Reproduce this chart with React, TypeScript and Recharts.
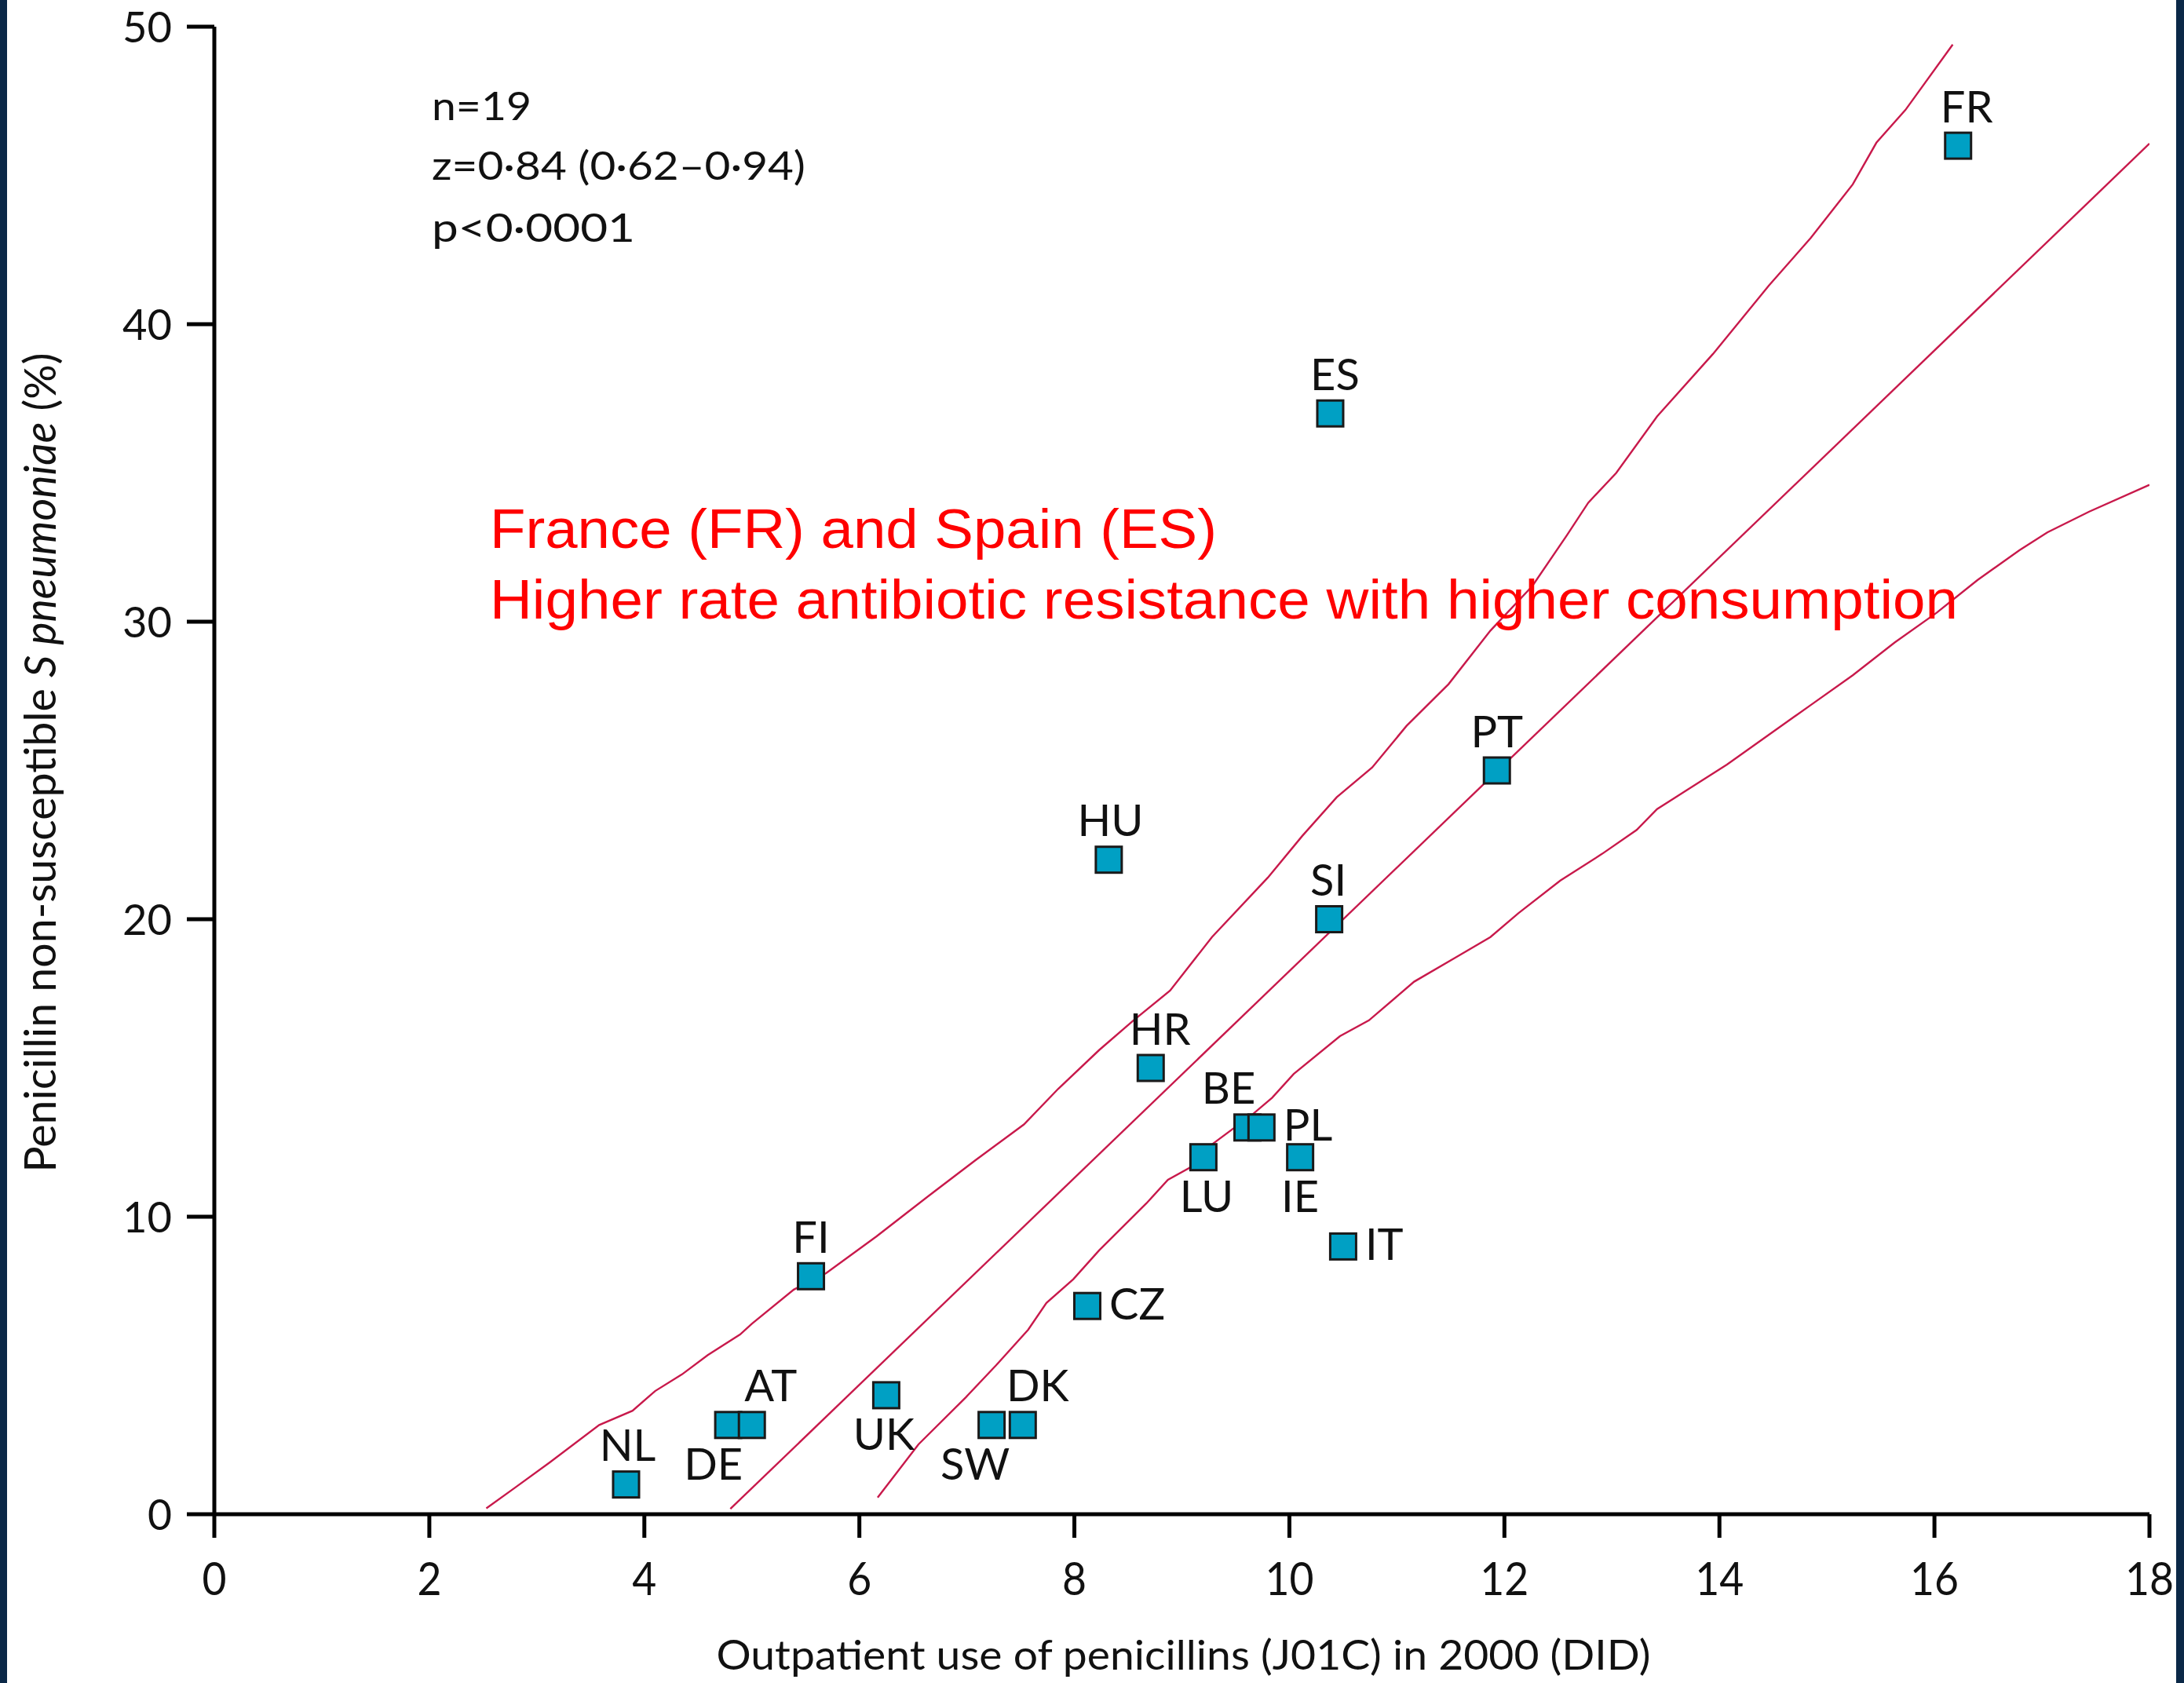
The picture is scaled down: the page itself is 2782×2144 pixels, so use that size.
import React from 'react';
import { ScatterChart, Scatter, XAxis, YAxis, Label } from 'recharts';

// ---- data ----
const countries = ['FR', 'ES', 'PT', 'SI', 'HU', 'HR', 'BE', 'PL', 'LU', 'IE', 'IT', 'CZ', 'FI', 'UK', 'SW', 'DK', 'DE', 'AT', 'NL'];
const penicillinUse = [16.22, 10.38, 11.93, 10.37, 8.32, 8.71, 9.61, 9.74, 9.2, 10.1, 10.5, 8.12, 5.55, 6.25, 7.23, 7.52, 4.78, 5.0, 3.83];
const resistancePct = [46, 37, 25, 20, 22, 15, 13, 13, 12, 12, 9, 7, 8, 4, 3, 3, 3, 3, 1];

const xTicks = [0, 2, 4, 6, 8, 10, 12, 14, 16, 18];
const yTicks = [0, 10, 20, 30, 40, 50];

const regressionX = [4.8, 18];
const regressionY = [0.18, 46.07];

const upperX = [2.53, 2.8, 3.12, 3.58, 3.89, 4.1, 4.35, 4.59, 4.89, 5.0, 5.39, 5.69, 6.16, 6.43, 6.68, 7.08, 7.53, 7.85, 8.23, 8.55, 8.89, 9.28, 9.8, 10.12, 10.44, 10.77, 11.09, 11.48, 11.87, 12.26, 12.58, 12.78, 13.04, 13.42, 13.94, 14.46, 14.85, 15.24, 15.46, 15.73, 16.17];
const upperY = [0.2, 0.9, 1.74, 3.0, 3.48, 4.14, 4.7, 5.35, 6.04, 6.4, 7.55, 8.1, 9.34, 10.1, 10.8, 11.9, 13.1, 14.3, 15.6, 16.6, 17.6, 19.4, 21.4, 22.8, 24.1, 25.1, 26.5, 27.9, 29.7, 31.2, 32.9, 34.0, 35.0, 36.9, 39.0, 41.3, 42.9, 44.7, 46.1, 47.2, 49.4];

const lowerX = [6.17, 6.55, 6.99, 7.27, 7.57, 7.74, 7.99, 8.23, 8.67, 8.87, 9.07, 9.28, 9.67, 9.84, 10.04, 10.47, 10.74, 11.16, 11.54, 11.87, 12.13, 12.52, 12.91, 13.23, 13.42, 13.68, 14.07, 14.46, 14.85, 15.24, 15.63, 16.02, 16.4, 16.79, 17.05, 17.44, 18.0];
const lowerY = [0.56, 2.35, 3.93, 5.0, 6.2, 7.1, 7.9, 8.87, 10.45, 11.24, 11.64, 12.43, 13.48, 14.0, 14.8, 16.07, 16.6, 17.9, 18.7, 19.4, 20.2, 21.3, 22.2, 23.0, 23.7, 24.3, 25.2, 26.2, 27.2, 28.2, 29.3, 30.3, 31.4, 32.4, 33.0, 33.7, 34.6];

// label placement (layout only)
const labelPlacement: Record<string, [string, number]> = {
  FR: ['top', 11], ES: ['top', 6], PT: ['top', 0], SI: ['top', -1], HU: ['top', 2], HR: ['top', 12],
  BE: ['top', -24], PL: ['right', 0], LU: ['bottom', 4], IE: ['bottom', 0], IT: ['right', 0], CZ: ['right', 0],
  FI: ['top', 0], UK: ['bottom', -3], SW: ['bottom', -21], DK: ['top', 19], DE: ['bottom', -19], AT: ['top', 24], NL: ['top', 2],
};

const points = countries.map((code, i) => ({ code, x: penicillinUse[i], y: resistancePct[i] }));
const toSeries = (xs: number[], ys: number[]) => xs.map((x, i) => ({ x, y: ys[i] }));
const regression = toSeries(regressionX, regressionY);
const upper = toSeries(upperX, upperY);
const lower = toSeries(lowerX, lowerY);

const W = 2782;
const H = 2144;
const LINE = '#c8194b';
const FILL = '#00a0c4';
const NAVY = '#0b2847';
const FONT = 'Lato, "Open Sans", sans-serif';

const Marker = (props: any) => {
  const { cx, cy, payload } = props;
  if (cx == null || cy == null) return <g />;
  const s = 33;
  const [pos, dx] = labelPlacement[payload.code] || ['top', 0];
  let tx = cx + dx;
  let ty = cy - 30;
  let anchor: 'middle' | 'start' = 'middle';
  if (pos === 'bottom') ty = cy + 70;
  if (pos === 'right') { tx = cx + 28; ty = cy + 17; anchor = 'start'; }
  return (
    <g>
      <rect x={cx - s / 2} y={cy - s / 2} width={s} height={s} fill={FILL} stroke="#1a1a1a" strokeWidth={3} />
      <text x={tx} y={ty} textAnchor={anchor} fontFamily={FONT} fontSize={56} fill="#111">{payload.code}</text>
    </g>
  );
};

const NoShape = () => <g />;

const XTick = (props: any) => {
  const { x, y, payload } = props;
  const s = String(payload.value);
  return (
    <text x={x} y={y + 71} textAnchor="middle" fontFamily={FONT} fontSize={58} fill="#111"
      textLength={31 * s.length} lengthAdjust="spacingAndGlyphs">{s}</text>
  );
};

const YTick = (props: any) => {
  const { x, y, payload } = props;
  const s = String(payload.value);
  return (
    <text x={x - 17} y={y + 20} textAnchor="end" fontFamily={FONT} fontSize={55} fill="#111"
      textLength={s.length === 1 ? 31 : 63} lengthAdjust="spacingAndGlyphs">{s}</text>
  );
};

const XTitle = (props: any) => {
  const vb = props.viewBox || { x: 273, y: 1929, width: 2465 };
  return (
    <text x={vb.x + vb.width / 2 + 2} y={vb.y + 198} textAnchor="middle" fontFamily={FONT} fontSize={52} fill="#111"
      textLength={1190} lengthAdjust="spacingAndGlyphs">
      Outpatient use of penicillins (J01C) in 2000 (DID)
    </text>
  );
};

const YTitle = (props: any) => {
  const vb = props.viewBox || { y: 34, height: 1895 };
  const cx = 71;
  const cy = vb.y + vb.height / 2 - 10;
  return (
    <text x={cx} y={cy} transform={`rotate(-90, ${cx}, ${cy})`} textAnchor="middle" fontFamily={FONT} fontSize={56} fill="#111"
      textLength={1044} lengthAdjust="spacingAndGlyphs">
      Penicillin non-susceptible <tspan fontStyle="italic">S pneumoniae</tspan> (%)
    </text>
  );
};

export default function App() {
  return (
    <div style={{ position: 'absolute', left: 0, top: 0, width: W, height: H, background: '#fff', overflow: 'hidden' }}>
      <ScatterChart width={W} height={H} margin={{ top: 34, right: 44, bottom: 0, left: 0 }}>
        <XAxis type="number" dataKey="x" domain={[0, 18]} ticks={xTicks} allowDataOverflow
          height={215} tickSize={30} tick={<XTick />}
          axisLine={{ stroke: '#000', strokeWidth: 5 }} tickLine={{ stroke: '#000', strokeWidth: 5 }}>
          <Label content={<XTitle />} position="bottom" />
        </XAxis>
        <YAxis type="number" dataKey="y" domain={[0, 50]} ticks={yTicks} allowDataOverflow
          width={273} tickSize={35} tick={<YTick />}
          axisLine={{ stroke: '#000', strokeWidth: 5 }} tickLine={{ stroke: '#000', strokeWidth: 5 }}>
          <Label content={<YTitle />} position="left" />
        </YAxis>
        <Scatter name="upper" data={upper} line={{ stroke: LINE, strokeWidth: 2.4 }} lineType="joint" shape={<NoShape />} isAnimationActive={false} />
        <Scatter name="regression" data={regression} line={{ stroke: LINE, strokeWidth: 2.4 }} lineType="joint" shape={<NoShape />} isAnimationActive={false} />
        <Scatter name="lower" data={lower} line={{ stroke: LINE, strokeWidth: 2.4 }} lineType="joint" shape={<NoShape />} isAnimationActive={false} />
        <Scatter name="countries" data={points} shape={<Marker />} isAnimationActive={false} />
      </ScatterChart>
      <svg width={W} height={H} style={{ position: 'absolute', left: 0, top: 0, pointerEvents: 'none' }}>
        <g fontFamily={FONT} fontSize={50} fill="#111">
          <text x={550} y={153} textLength={127} lengthAdjust="spacingAndGlyphs">n=19</text>
          <text x={550} y={229} textLength={476} lengthAdjust="spacingAndGlyphs">z=0·84 (0·62–0·94)</text>
          <text x={550} y={308} textLength={259} lengthAdjust="spacingAndGlyphs">p&lt;0·0001</text>
        </g>
        <g fontFamily='"Liberation Sans", Arial, sans-serif' fontSize={71} fill="#ff0000">
          <text x={624} y={698} textLength={926} lengthAdjust="spacingAndGlyphs">France (FR) and Spain (ES)</text>
          <text x={624} y={788} textLength={1870} lengthAdjust="spacingAndGlyphs">Higher rate antibiotic resistance with higher consumption</text>
        </g>
      </svg>
      <div style={{ position: 'absolute', left: 0, top: 0, width: 9, height: H, background: NAVY }} />
      <div style={{ position: 'absolute', left: 2772, top: 0, width: 10, height: H, background: NAVY }} />
    </div>
  );
}
